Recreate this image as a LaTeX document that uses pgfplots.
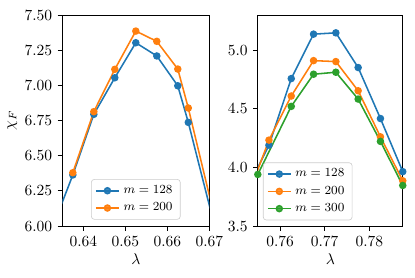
\documentclass[border=0pt]{standalone}
\usepackage{pgfplots}
\pgfplotsset{compat=1.18}
\definecolor{tabblue}{HTML}{1F77B4}
\definecolor{taborange}{HTML}{FF7F0E}
\definecolor{tabgreen}{HTML}{2CA02C}
\pgfplotsset{
  common/.style={
    scale only axis,
    height=136.1pt,
    tick align=outside,
    tick pos=left,
    major tick length=3pt,
    axis line style={line width=0.6pt},
    every tick/.style={black,line width=0.6pt},
    xlabel={$\lambda$},
    xlabel style={yshift=2pt},
    legend cell align=left,
    legend style={font=\footnotesize, draw=black!20, rounded corners=2pt, fill=white, fill opacity=0.85, text opacity=1,
      inner xsep=2.5pt, inner ysep=2pt, row sep=0.5pt,
      nodes={inner xsep=2.5pt}},
    legend image code/.code={\draw[mark repeat=2,mark phase=2,#1] plot coordinates {(0cm,0cm)(0.26cm,0cm)(0.52cm,0cm)};},
    every axis plot/.append style={line width=1pt, mark=*, mark size=1.9pt},
  }
}
\begin{document}
\begin{tikzpicture}
\begin{axis}[common,
  width=94.8pt,
  xmin=0.635, xmax=0.67, ymin=6.0, ymax=7.5,
  xtick={0.64,0.65,0.66,0.67},
  ytick={6.0,6.25,6.5,6.75,7.0,7.25,7.5},
  xticklabel style={/pgf/number format/.cd, fixed, fixed zerofill, precision=2},
  yticklabel style={/pgf/number format/.cd, fixed, fixed zerofill, precision=2},
  ylabel={$\chi_F$},
  ylabel style={yshift=-2pt},
  legend style={at={(0.5,0.03)}, anchor=south},
]
\addplot[tabblue, mark options={fill=tabblue}] coordinates {
 (0.6325,5.977) (0.6375,6.363) (0.6425,6.794) (0.6475,7.054) (0.6525,7.303)
 (0.6575,7.209) (0.6625,6.997) (0.665,6.737) (0.675,5.56)};
\addlegendentry{$m=128$}
\addplot[taborange, mark options={fill=taborange}] coordinates {
 (0.6375,6.379) (0.6425,6.813) (0.6475,7.114) (0.6525,7.386)
 (0.6575,7.313) (0.6625,7.116) (0.665,6.839) (0.675,5.60)};
\addlegendentry{$m=200$}
\end{axis}
\begin{axis}[common,
  at={(126.1pt,0pt)},
  width=93.5pt,
  xmin=0.755, xmax=0.7875, ymin=3.5, ymax=5.3,
  xtick={0.76,0.77,0.78},
  ytick={3.5,4.0,4.5,5.0},
  xticklabel style={/pgf/number format/.cd, fixed, fixed zerofill, precision=2},
  yticklabel style={/pgf/number format/.cd, fixed, fixed zerofill, precision=1},
  legend style={at={(0.035,0.027)}, anchor=south west},
]
\addplot[tabblue, mark options={fill=tabblue}] coordinates {
 (0.7525,3.81) (0.7575,4.19) (0.7625,4.758) (0.7675,5.137) (0.7725,5.148)
 (0.7775,4.852) (0.7825,4.417) (0.7875,3.964)};
\addlegendentry{$m=128$}
\addplot[taborange, mark options={fill=taborange}] coordinates {
 (0.7525,3.727) (0.7575,4.233) (0.7625,4.609) (0.7675,4.911) (0.7725,4.903)
 (0.7775,4.654) (0.7825,4.261) (0.7875,3.886)};
\addlegendentry{$m=200$}
\addplot[tabgreen, mark options={fill=tabgreen}] coordinates {
 (0.755,3.94) (0.7625,4.521) (0.7675,4.795) (0.7725,4.812)
 (0.7775,4.583) (0.7825,4.222) (0.7875,3.846)};
\addlegendentry{$m=300$}
\end{axis}
\pgfresetboundingbox
\path[use as bounding box] (-40.2pt,-32.9pt) rectangle (227.5pt,145.8pt);
\end{tikzpicture}
\end{document}
